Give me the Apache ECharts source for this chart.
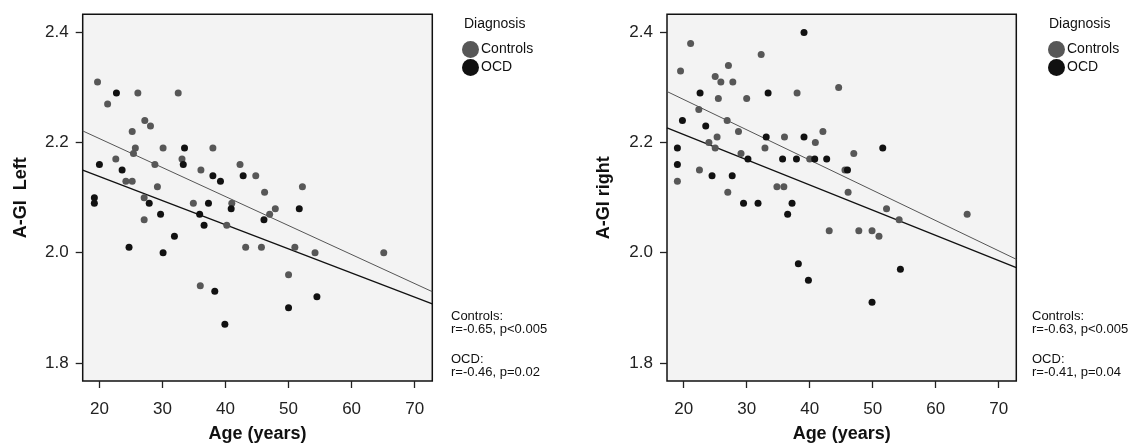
<!DOCTYPE html>
<html>
<head>
<meta charset="utf-8">
<script src="https://cdn.jsdelivr.net/npm/echarts@6/dist/echarts.min.js"></script>
<style>
  html, body { margin: 0; padding: 0; background: #fff; }
  #chart { width: 1145px; height: 443px; }
</style>
</head>
<body>
<div id="chart"></div>
<script>
// left panel: A-GI Left, [age, value]
var leftControls = [
  [19.7, 2.31], [21.3, 2.27], [26.1, 2.29], [32.5, 2.29], [27.2, 2.24], [28.1, 2.23],
  [25.2, 2.22], [25.7, 2.19], [25.4, 2.18], [30.1, 2.19], [38.0, 2.19], [22.6, 2.17],
  [33.1, 2.17], [28.8, 2.16], [42.3, 2.16], [36.1, 2.15], [44.8, 2.14], [24.2, 2.13],
  [25.2, 2.13], [29.2, 2.12], [52.2, 2.12], [46.2, 2.11], [27.1, 2.10], [34.9, 2.09],
  [41.0, 2.09], [47.9, 2.08], [47.0, 2.07], [27.1, 2.06], [40.2, 2.05], [43.2, 2.01],
  [45.7, 2.01], [51.0, 2.01], [54.2, 2.00], [65.1, 2.00], [50.0, 1.96], [36.0, 1.94]
];
var leftOCD = [
  [22.7, 2.29], [20.0, 2.16], [33.5, 2.19], [33.3, 2.16], [23.6, 2.15], [38.0, 2.14],
  [42.8, 2.14], [39.2, 2.13], [19.2, 2.10], [19.2, 2.09], [27.9, 2.09], [37.3, 2.09],
  [40.9, 2.08], [51.7, 2.08], [29.7, 2.07], [35.9, 2.07], [46.1, 2.06], [36.6, 2.05],
  [31.9, 2.03], [24.7, 2.01], [30.1, 2.00], [38.3, 1.93], [54.5, 1.92], [50.0, 1.90],
  [39.9, 1.87]
];
// right panel: A-GI right
var rightControls = [
  [21.1, 2.38], [19.5, 2.33], [32.3, 2.36], [27.1, 2.34], [25.0, 2.32], [25.9, 2.31],
  [27.8, 2.31], [38.0, 2.29], [44.6, 2.30], [25.5, 2.28], [30.0, 2.28], [22.4, 2.26],
  [26.9, 2.24], [28.7, 2.22], [42.1, 2.22], [25.3, 2.21], [36.0, 2.21], [24.0, 2.20],
  [40.9, 2.20], [25.0, 2.19], [32.9, 2.19], [29.1, 2.18], [47.0, 2.18], [40.0, 2.17],
  [22.5, 2.15], [45.6, 2.15], [19.0, 2.13], [34.8, 2.12], [35.9, 2.12], [27.0, 2.11],
  [46.1, 2.11], [52.2, 2.08], [65.0, 2.07], [54.2, 2.06], [43.1, 2.04], [47.8, 2.04],
  [49.9, 2.04], [51.0, 2.03]
];
var rightOCD = [
  [39.1, 2.40], [22.6, 2.29], [33.4, 2.29], [19.8, 2.24], [23.5, 2.23], [33.1, 2.21],
  [39.1, 2.21], [19.0, 2.19], [51.6, 2.19], [30.2, 2.17], [35.7, 2.17], [37.9, 2.17],
  [40.8, 2.17], [42.7, 2.17], [19.0, 2.16], [46.0, 2.15], [24.5, 2.14], [27.7, 2.14],
  [29.5, 2.09], [31.8, 2.09], [37.2, 2.09], [36.5, 2.07], [38.2, 1.98], [39.8, 1.95],
  [54.4, 1.97], [49.9, 1.91]
];

// fitted lines [intercept, slope]
var leftFitControls = [2.3126, -0.005266];
var leftFitOCD = [2.2262, -0.004382];
var rightFitControls = [2.3881, -0.005495];
var rightFitOCD = [2.3062, -0.004577];

var xRange = [17.35, 72.8];
var yRange = [1.767, 2.433];
var xTicks = [20, 30, 40, 50, 60, 70];
var yTicks = [1.8, 2.0, 2.2, 2.4];
var groups = ['Controls', 'OCD'];

var statsLeft = ['Controls:', 'r=-0.65, p<0.005', 'OCD:', 'r=-0.46, p=0.02'];
var statsRight = ['Controls:', 'r=-0.63, p<0.005', 'OCD:', 'r=-0.41, p=0.04'];

var FONT = 'Liberation Sans, Arial, Helvetica, sans-serif';
var GRAY = '#575757';
var BLACK = '#111111';

function fitLine(fit) {
  return xRange.map(function (x) { return [x, fit[0] + fit[1] * x]; });
}

function makeX(idx) {
  return {
    type: 'value', gridIndex: idx, min: xRange[0], max: xRange[1],
    name: 'Age (years)', nameLocation: 'middle', nameGap: 44,
    nameTextStyle: { fontFamily: FONT, fontSize: 18, fontWeight: 'bold', color: '#111' },
    axisLine: { show: false },
    axisTick: { show: true, length: 7, customValues: xTicks, lineStyle: { color: '#222', width: 1.3 } },
    axisLabel: { customValues: xTicks, margin: 20, fontFamily: FONT, fontSize: 17, color: '#222' },
    splitLine: { show: false }
  };
}

function makeY(idx, name, gap) {
  return {
    type: 'value', gridIndex: idx, min: yRange[0], max: yRange[1],
    name: name, nameLocation: 'middle', nameGap: gap,
    nameTextStyle: { fontFamily: FONT, fontSize: 18, fontWeight: 'bold', color: '#111' },
    axisLine: { show: false },
    axisTick: { show: true, length: 7, customValues: yTicks, lineStyle: { color: '#222', width: 1.3 } },
    axisLabel: {
      customValues: yTicks, margin: 14, fontFamily: FONT, fontSize: 17, color: '#222',
      formatter: function (v) { return v.toFixed(1); }
    },
    splitLine: { show: false }
  };
}

function scatter(name, data, idx, color) {
  return {
    name: name, type: 'scatter', xAxisIndex: idx, yAxisIndex: idx, data: data,
    symbolSize: 7, itemStyle: { color: color, opacity: 1 }, z: 3
  };
}

function line(name, fit, idx, color, w) {
  return {
    name: name + ' fit', type: 'line', xAxisIndex: idx, yAxisIndex: idx, data: fitLine(fit),
    showSymbol: false, symbol: 'none', itemStyle: { color: color },
    lineStyle: { color: color, width: w }, z: 2, silent: true
  };
}

function statTexts(x, lines) {
  var ys = [317, 330, 360, 373];
  return lines.map(function (t, i) {
    return {
      type: 'text', left: x, top: ys[i] - 7,
      style: { text: t, fontFamily: FONT, fontSize: 13, fill: '#111' }
    };
  });
}

function legendAt(x) {
  return {
    orient: 'vertical', left: x, top: 36, itemWidth: 17, itemHeight: 17, itemGap: 1,
    icon: 'circle', data: groups,
    textStyle: { fontFamily: FONT, fontSize: 14, color: '#111', padding: [0, 0, 0, -3] }
  };
}

var chart = echarts.init(document.getElementById('chart'));
chart.setOption({
  backgroundColor: '#ffffff',
  animation: false,
  grid: [
    { left: 82.7, top: 14.3, width: 349.6, height: 366.7, show: true, outerBoundsMode: 'none',
      containLabel: false, backgroundColor: '#f3f3f3', borderColor: '#111', borderWidth: 1.5 },
    { left: 667, top: 14.3, width: 349.3, height: 366.7, show: true, outerBoundsMode: 'none',
      containLabel: false, backgroundColor: '#f3f3f3', borderColor: '#111', borderWidth: 1.5 }
  ],
  xAxis: [makeX(0), makeX(1)],
  yAxis: [makeY(0, 'A-GI  Left', 53), makeY(1, 'A-GI right', 54)],
  legend: [legendAt(457), legendAt(1043)],
  graphic: [
    { type: 'text', left: 464, top: 17, style: { text: 'Diagnosis', fontFamily: FONT, fontSize: 14, fill: '#111' } },
    { type: 'text', left: 1049, top: 17, style: { text: 'Diagnosis', fontFamily: FONT, fontSize: 14, fill: '#111' } }
  ].concat(statTexts(451, statsLeft), statTexts(1032, statsRight)),
  series: [
    line('Controls', leftFitControls, 0, '#555', 1),
    line('OCD', leftFitOCD, 0, '#111', 1.3),
    scatter('Controls', leftControls, 0, GRAY),
    scatter('OCD', leftOCD, 0, BLACK),
    line('Controls', rightFitControls, 1, '#555', 1),
    line('OCD', rightFitOCD, 1, '#111', 1.3),
    scatter('Controls', rightControls, 1, GRAY),
    scatter('OCD', rightOCD, 1, BLACK)
  ]
});
</script>
</body>
</html>
